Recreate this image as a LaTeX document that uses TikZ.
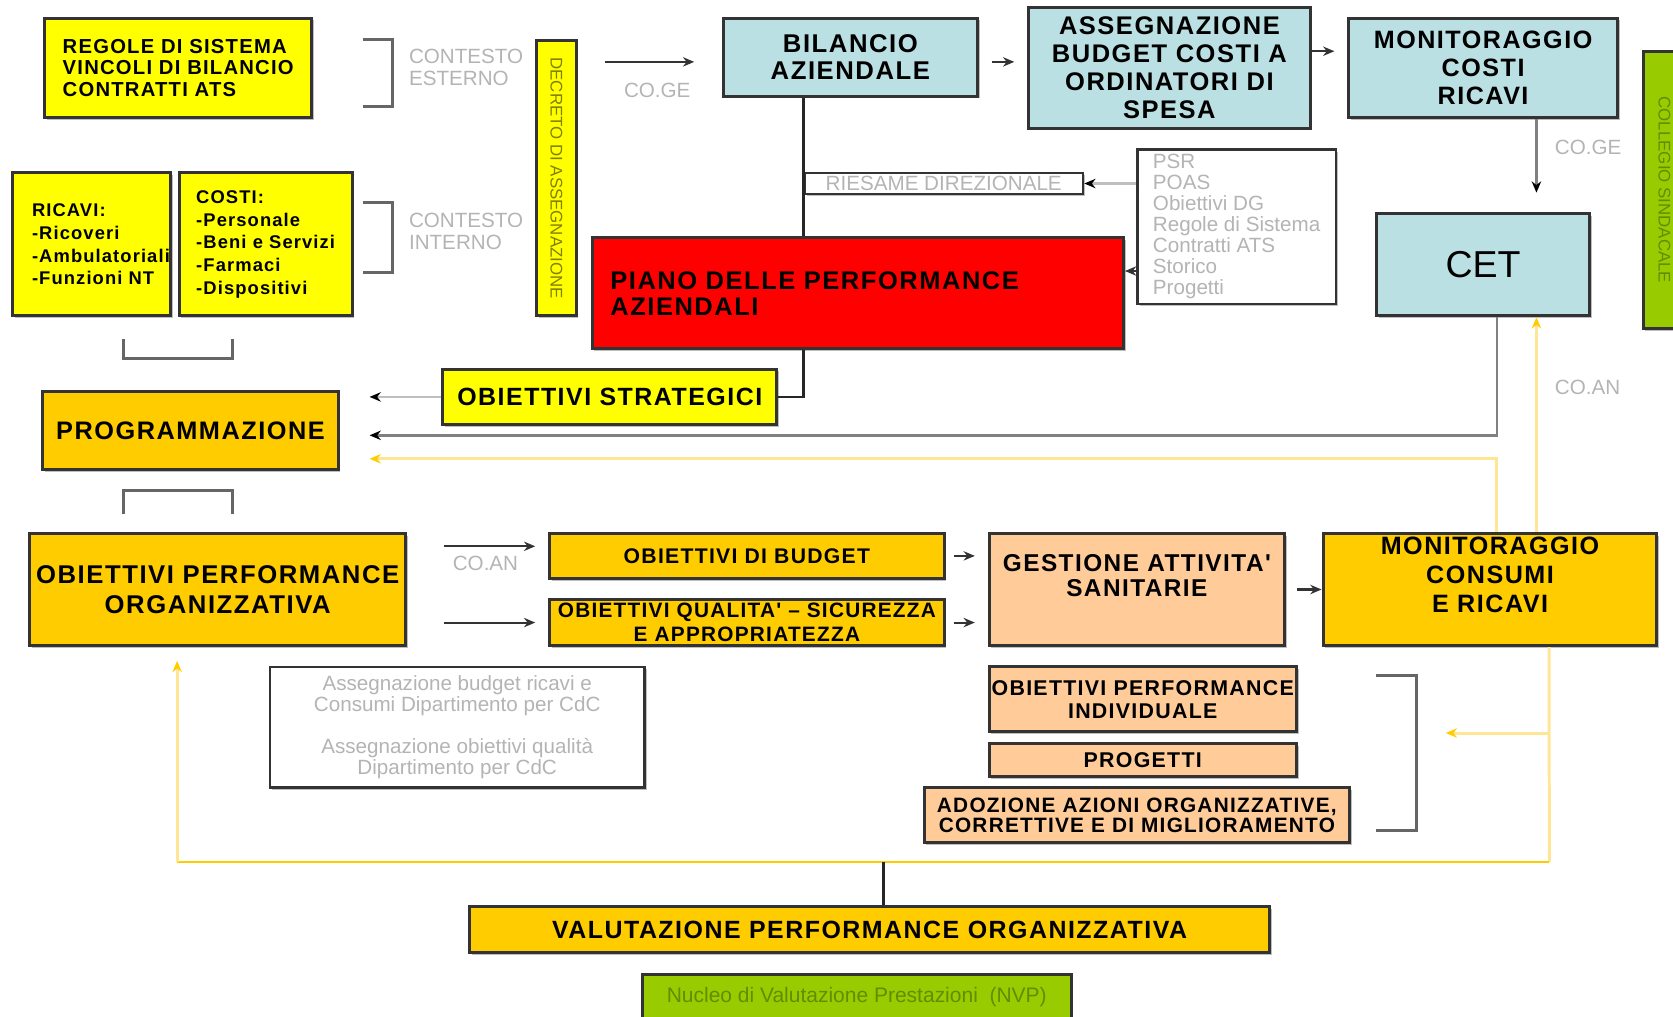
\documentclass[tikz,border=0pt]{standalone}
\usepackage{fontspec}
\setmainfont{Liberation Sans}
\newfontfamily\boxfont[LetterSpace=6]{Liberation Sans}
\usepackage{xcolor}
\usepackage{tikz}
\usetikzlibrary{shapes.geometric, arrows, arrows.meta, shadows}
\hyphenpenalty=10000
\exhyphenpenalty=10000

\definecolor{yellowfill}{RGB}{255,255,0}
\definecolor{goldfill}{RGB}{255,204,0}
\definecolor{bluefill}{RGB}{187,224,227}
\definecolor{peachfill}{RGB}{255,204,153}
\definecolor{greenfill}{RGB}{153,204,0}
\definecolor{olivetext}{RGB}{128,128,0}
\definecolor{greentext}{RGB}{100,140,0}
\definecolor{lightyellow}{RGB}{255,230,150}
\definecolor{notegray}{RGB}{180,180,180}

\newcommand{\bfsize}[2]{\fontsize{#1}{#2}\boxfont\bfseries}

\tikzstyle{basebox} = [rectangle, draw=black!80, line width=1.6pt, inner sep=0pt, align=center, drop shadow={fill=black!25, opacity=1, shadow xshift=1.2pt, shadow yshift=-1.2pt}]
\tikzstyle{yellowbox} = [basebox, fill=yellowfill]
\tikzstyle{goldbox} = [basebox, fill=goldfill]
\tikzstyle{bluebox} = [basebox, fill=bluefill]
\tikzstyle{peachbox} = [basebox, fill=peachfill]
\tikzstyle{redbox} = [basebox, fill=red]
\tikzstyle{greenbar} = [basebox, fill=greenfill, text=greentext]
\tikzstyle{notebox} = [basebox, fill=white, text=notegray, line width=1.4pt]
\tikzstyle{note} = [text=notegray, inner sep=0pt, align=left, font=\fontsize{11}{11.4}\selectfont]
\tikzstyle{arrow} = [line width=1.1pt, draw=black!80, -{Stealth[length=6pt, width=5pt]}]
\tikzstyle{grayarrow} = [line width=1.3pt, draw=black!50, -{Stealth[length=6pt, width=5pt, color=black]}]
\tikzstyle{pale} = [draw=black!25]
\tikzstyle{yellowarrow} = [line width=1.6pt, draw=lightyellow, -{Stealth[length=6pt, width=5pt, color=goldfill]}]
\tikzstyle{yellowline} = [line width=1.6pt, draw=lightyellow]
\tikzstyle{goldline} = [line width=1.1pt, draw=goldfill]
\tikzstyle{link} = [line width=1.4pt, draw=black!85]
\tikzstyle{bracket} = [line width=1.6pt, draw=black!60]

\begin{document}
\begin{tikzpicture}[x=0.02cm, y=-0.02cm, node distance=1.2cm]
    \useasboundingbox (0,0) rectangle (1568,953);
    % Nodes
    \node (regole) [yellowbox, minimum width=5cm, minimum height=1.86cm, align=left, font=\bfsize{10.8}{11.4}] at (167,63.5) {REGOLE DI SISTEMA\\VINCOLI DI BILANCIO\\CONTRATTI ATS};
    \node (ricavi) [yellowbox, minimum width=2.96cm, minimum height=2.68cm, text width=2.24cm, align=left, font=\bfsize{9.8}{12.1}] at (86,229) {RICAVI:\\-Ricoveri\\-Ambulatoriali\\-Funzioni~NT};
    \node (costi) [yellowbox, right of=ricavi, node distance=3.26cm, minimum width=3.24cm, minimum height=2.68cm, align=left, font=\bfsize{9.8}{12.1}] {COSTI:\\-Personale\\-Beni e Servizi\\-Farmaci\\-Dispositivi};
    \node (decreto) [yellowbox, rotate=-90, minimum width=5.16cm, minimum height=0.74cm, text=olivetext, font=\fontsize{9}{10}\selectfont] at (521.5,167) {DECRETO DI ASSEGNAZIONE};
    \node (bilancio) [bluebox, minimum width=4.76cm, minimum height=1.46cm, font=\bfsize{13.7}{14.5}] at (797,53.5) {BILANCIO\\AZIENDALE};
    \node (assegn) [bluebox, minimum width=5.28cm, minimum height=2.26cm, font=\bfsize{13.6}{14.8}] at (1096,63.5) {ASSEGNAZIONE\\BUDGET COSTI A\\ORDINATORI DI\\SPESA};
    \node (monit_cr) [bluebox, minimum width=5.04cm, minimum height=1.86cm, font=\bfsize{13.4}{15.1}] at (1390,63.5) {MONITORAGGIO\\COSTI\\RICAVI};
    \node (cet) [bluebox, below of=monit_cr, node distance=3.69cm, minimum width=4cm, minimum height=1.92cm, font=\fontsize{20}{22}\selectfont] {CET};
    \node (collegio) [greenbar, rotate=-90, minimum width=5.2cm, minimum height=0.8cm, font=\fontsize{9}{10}\selectfont] at (1560,178) {COLLEGIO SINDACALE};
    \node (riesame) [notebox, minimum width=5.22cm, minimum height=0.4cm, font=\fontsize{11}{12}\selectfont] at (884.5,172) {RIESAME DIREZIONALE};
    \node (psr) [notebox, minimum width=3.72cm, minimum height=2.9cm, align=left, font=\fontsize{11}{11.2}\selectfont] at (1159,212.5) {PSR\\POAS\\Obiettivi DG\\Regole di Sistema\\Contratti ATS\\Storico\\Progetti};
    \node (piano) [redbox, minimum width=9.96cm, minimum height=2.08cm, text width=9.28cm, align=left, font=\bfsize{13.6}{14.2}] at (804,275) {PIANO DELLE PERFORMANCE\\AZIENDALI};
    \node (strateg) [yellowbox, minimum width=6.26cm, minimum height=1.04cm, font=\bfsize{13.3}{14}] at (571.5,372) {OBIETTIVI STRATEGICI};
    \node (program) [goldbox, minimum width=5.54cm, minimum height=1.46cm, font=\bfsize{13.5}{14}] at (178.5,403.5) {PROGRAMMAZIONE};
    \node (obperf) [goldbox, minimum width=7.04cm, minimum height=2.1cm, font=\bfsize{13.7}{15.9}] at (204,552.5) {OBIETTIVI PERFORMANCE\\ORGANIZZATIVA};
    \node (budget) [goldbox, minimum width=7.4cm, minimum height=0.84cm, font=\bfsize{11.3}{13}] at (700,521) {OBIETTIVI DI BUDGET};
    \node (qualita) [goldbox, below of=budget, node distance=1.25cm, minimum width=7.4cm, minimum height=0.86cm, font=\bfsize{11.1}{13}] {OBIETTIVI QUALITA' – SICUREZZA\\E APPROPRIATEZZA};
    \node (gestione) [peachbox, minimum width=5.54cm, minimum height=2.1cm, font=\bfsize{13}{13.7}] at (1065.5,552.5) {\parbox[c][1.32cm][t]{5.5cm}{\centering GESTIONE ATTIVITA'\\SANITARIE}};
    \node (monit_cons) [goldbox, minimum width=6.26cm, minimum height=2.1cm, font=\bfsize{13.4}{15.4}] at (1396.5,552.5) {\parbox[c][1.96cm][t]{6cm}{\centering MONITORAGGIO\\CONSUMI\\E RICAVI}};
    \node (assegn_cdc) [notebox, minimum width=7.02cm, minimum height=2.26cm, font=\fontsize{11}{11.4}\selectfont] at (428.5,681.5) {Assegnazione budget ricavi e\\Consumi Dipartimento per CdC\\[10.8pt]Assegnazione obiettivi qualità\\Dipartimento per CdC};
    \node (obind) [peachbox, minimum width=5.76cm, minimum height=1.22cm, font=\bfsize{11.4}{12.5}] at (1071,655.5) {OBIETTIVI PERFORMANCE\\INDIVIDUALE};
    \node (progetti) [peachbox, below of=obind, node distance=1.14cm, minimum width=5.76cm, minimum height=0.62cm, font=\bfsize{11.4}{12}] {PROGETTI};
    \node (adozione) [peachbox, minimum width=7.98cm, minimum height=1.04cm, font=\bfsize{11.1}{10.8}] at (1065.5,764) {ADOZIONE AZIONI ORGANIZZATIVE,\\CORRETTIVE E DI MIGLIORAMENTO};
    \node (valut) [goldbox, minimum width=15cm, minimum height=0.86cm, font=\bfsize{13.3}{14}] at (815,871.5) {VALUTAZIONE PERFORMANCE ORGANIZZATIVA};
    \node (nucleo) [greenbar, minimum width=8.04cm, minimum height=0.86cm, font=\fontsize{11.2}{12}\selectfont] at (803,934.5) {Nucleo di Valutazione Prestazioni\ \ (NVP)};
    % Labels
    \node (contesto_est) [note, anchor=west] at (383,63) {CONTESTO\\ESTERNO};
    \node (contesto_int) [note, anchor=west] at (383,217) {CONTESTO\\INTERNO};
    \node (coge_top) [note] at (616,85) {CO.GE};
    \node (coge_cet) [note, anchor=west] at (1457,138) {CO.GE};
    \node (coan_cet) [note, anchor=west] at (1457,363) {CO.AN};
    \node (coan_obj) [note] at (455,528) {CO.AN};
    % Coordinates
    \coordinate (bil_in) at ([yshift=-0.09cm]bilancio.west);
    \coordinate (mon_in) at ([yshift=0.31cm]monit_cr.west);
    \coordinate (piano_in) at ([yshift=0.42cm]piano.east);
    \coordinate (bud_in) at ([yshift=0.18cm]budget.west);
    \coordinate (prog_cet) at ([yshift=-0.09cm]program.east);
    \coordinate (prog_cons) at ([yshift=-0.53cm]program.east);
    \coordinate (cet_up) at ([xshift=0.87cm]monit_cons.north);
    \coordinate (cons_out) at ([xshift=1.11cm]monit_cons.south);
    \coordinate (loop_r) at (1452,808);
    \coordinate (loop_l) at (166,808);
    \coordinate (brk_tip) at (1355,687);
    \coordinate (valut_in) at ([xshift=0.26cm]valut.north);
    % Arrows
    \draw [arrow, shorten <=0.52cm, shorten >=0.52cm] (bil_in -| decreto.north) -- (bil_in);
    \draw [arrow, shorten <=0.24cm, shorten >=0.24cm] (bil_in -| bilancio.east) -- (bil_in -| assegn.west);
    \draw [arrow, shorten >=0.24cm] (mon_in -| assegn.east) -- (mon_in);
    \draw [grayarrow, shorten >=0.36cm] ([xshift=1cm]monit_cr.south) -- ([xshift=1cm]cet.north);
    \draw [link] (bilancio.south -| riesame.west) -- (piano.north -| riesame.west);
    \draw [link] (piano.south -| riesame.west) |- (strateg.east);
    \draw [grayarrow, pale] (psr.west |- riesame.east) -- (riesame.east);
    \draw [arrow] (piano_in -| psr.west) -- (piano_in);
    \draw [grayarrow, pale, shorten >=0.56cm] (strateg.west) -- (strateg.west -| program.east);
    \draw [grayarrow, shorten >=0.56cm] ([xshift=0.26cm]cet.south) |- (prog_cet);
    \draw [yellowarrow, shorten >=0.56cm] ([xshift=0.13cm]monit_cons.north) |- (prog_cons);
    \draw [yellowarrow] (cet_up) -- (cet_up |- cet.south);
    \draw [arrow, shorten <=0.7cm, shorten >=0.24cm] (bud_in -| obperf.east) -- (bud_in);
    \draw [arrow, shorten <=0.7cm, shorten >=0.24cm] (obperf.east |- qualita.west) -- (qualita.west);
    \draw [arrow, shorten <=0.16cm, shorten >=0.24cm] (budget.east) -- (budget.east -| gestione.west);
    \draw [arrow, shorten <=0.16cm, shorten >=0.24cm] (qualita.east) -- (qualita.east -| gestione.west);
    \draw [arrow, shorten <=0.2cm] (gestione.east) -- (monit_cons.west);
    \draw [yellowline] (cons_out) -- (loop_r);
    \draw [goldline] (loop_r) -- (loop_l);
    \draw [yellowarrow, shorten >=0.26cm] (loop_l) -- (loop_l |- obperf.south);
    \draw [yellowarrow] (brk_tip -| loop_r) -- (brk_tip);
    \draw [link] (valut_in |- loop_l) -- (valut_in);
    % Brackets
    \draw [bracket] (340,37) -- (368,37) -- (368,100) -- (340,100);
    \draw [bracket] (340,190) -- (368,190) -- (368,255) -- (340,255);
    \draw [bracket] (116,318) -- (116,336) -- (218,336) -- (218,318);
    \draw [bracket] (116,482) -- (116,460) -- (218,460) -- (218,482);
    \draw [bracket] (1290,633) -- (1328,633) -- (1328,778) -- (1290,778);
\end{tikzpicture}
\end{document}
